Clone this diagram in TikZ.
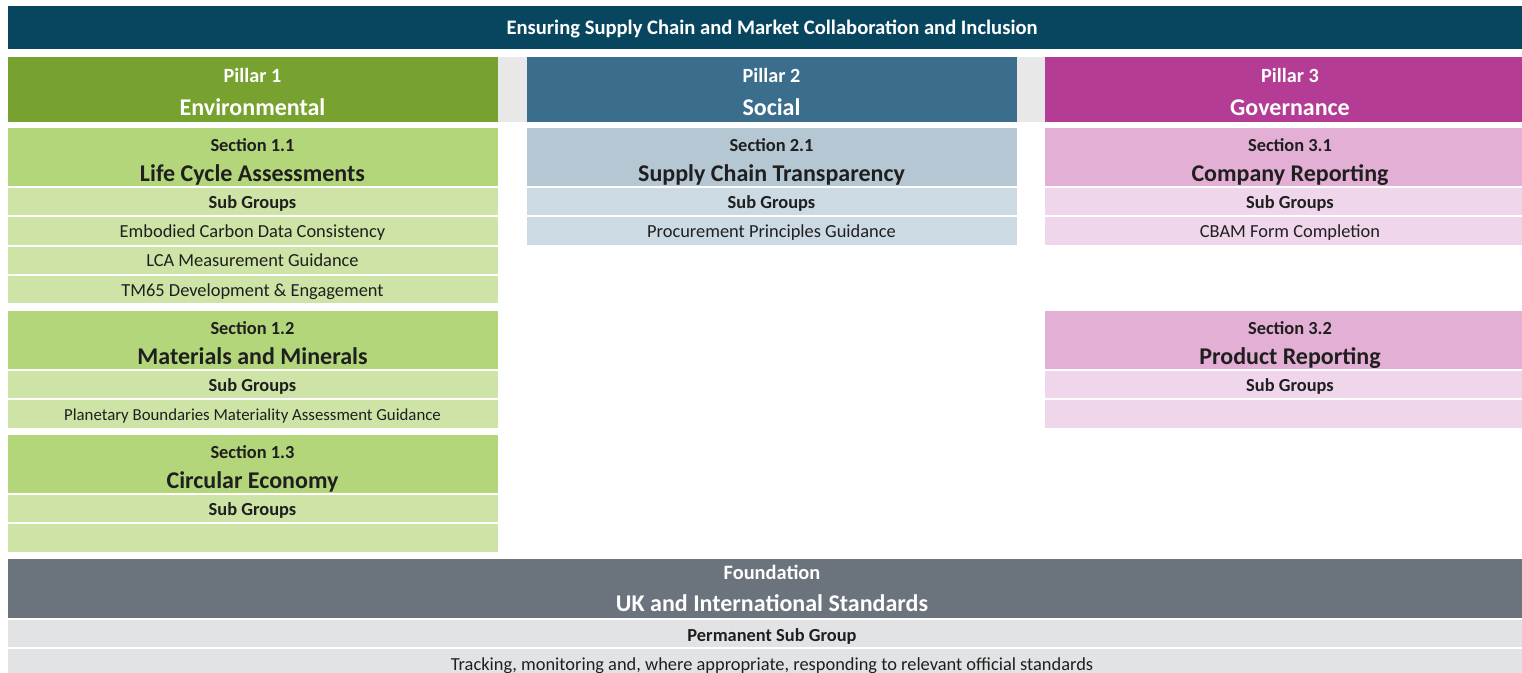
\documentclass[tikz,border=0pt]{standalone}
\usepackage{fontspec}
\setmainfont{Carlito}
\usepackage{tikz}

\definecolor{titleblue}{HTML}{084660}
\definecolor{envgreen}{HTML}{78A22F}
\definecolor{envhead}{HTML}{B3D67A}
\definecolor{envrow}{HTML}{CDE4A6}
\definecolor{socblue}{HTML}{3B6D8C}
\definecolor{sochead}{HTML}{B4C7D3}
\definecolor{socrow}{HTML}{CCDAE3}
\definecolor{govpink}{HTML}{B43C94}
\definecolor{govhead}{HTML}{E4AFD5}
\definecolor{govrow}{HTML}{F0D6EB}
\definecolor{foundgrey}{HTML}{6B737C}
\definecolor{foundrow}{HTML}{E2E3E5}
\definecolor{gapgrey}{HTML}{E8E8E8}
\definecolor{cellink}{HTML}{1F1F1F}

\tikzset{
	cell/.style = {rectangle, inner sep=0pt, outer sep=0pt, minimum width=245pt, text=cellink, text depth=0pt},
	titlebar/.style = {cell, fill=titleblue, text=white, minimum width=764pt, minimum height=21.5pt,
		text height=7pt, font=\fontsize{10.3}{12}\selectfont\bfseries},
	pillar/.style = {cell, fill=#1, text=white, minimum height=32.5pt, align=center,
		text height=26.3pt, font=\fontsize{10.1}{16.5}\selectfont\bfseries},
	foundhead/.style = {cell, fill=foundgrey, text=white, minimum width=764pt, minimum height=29.5pt, align=center,
		text height=23.5pt, font=\fontsize{10.2}{16.5}\selectfont\bfseries},
	sechead/.style = {cell, fill=#1, minimum height=29pt, align=center,
		text height=25pt, font=\fontsize{9.2}{15.35}\selectfont\bfseries},
	subhead/.style = {cell, fill=#1, minimum height=13.75pt, text height=7.2pt, font=\fontsize{9.2}{11}\selectfont\bfseries},
	item/.style = {cell, fill=#1, minimum height=13.75pt, text height=6.4pt, font=\fontsize{9.2}{11}\selectfont}
}

\begin{document}
\begin{tikzpicture}[x=0.5pt, y=-0.5pt]

	\useasboundingbox (0,0) rectangle (1522,673);
	\clip (0,0) rectangle (1522,673);
	\fill[white] (0,0) rectangle (1522,673);

	% top bar
	\node[titlebar] (top) at (772,28) {Ensuring Supply Chain and Market Collaboration and Inclusion};

	% pillars
	\fill[gapgrey] (497,57) rectangle (527,122);
	\fill[gapgrey] (1016,57) rectangle (1045,122);
	\node[pillar=envgreen] (p1) at (252.5,89.5) {Pillar 1\\{\fontsize{12}{16.5}\selectfont Environmental}};
	\node[pillar=socblue] (p2) at (771.5,89.5) {Pillar 2\\{\fontsize{12}{16.5}\selectfont Social}};
	\node[pillar=govpink] (p3) at (1290,89.5) {Pillar 3\\{\fontsize{12}{16.5}\selectfont Governance}};

	% pillar 1
	\node[sechead=envhead] (s11) at (252.5,157) {Section 1.1\\{\fontsize{12}{15.35}\selectfont Life Cycle Assessments}};
	\node[subhead=envrow] (s11sub) at (252.5,201.75) {Sub Groups};
	\node[item=envrow] (s11a) at (252.5,231.05) {Embodied Carbon Data Consistency};
	\node[item=envrow] (s11b) at (252.5,260.35) {LCA Measurement Guidance};
	\node[item=envrow] (s11c) at (252.5,289.65) {TM65 Development \& Engagement};

	\node[sechead=envhead] (s12) at (252.5,340) {Section 1.2\\{\fontsize{12}{15.35}\selectfont Materials and Minerals}};
	\node[subhead=envrow] (s12sub) at (252.5,384.75) {Sub Groups};
	\node[item=envrow, font=\fontsize{8.4}{11}\selectfont] (s12a) at (252.5,414.05) {Planetary Boundaries Materiality Assessment Guidance};

	\node[sechead=envhead] (s13) at (252.5,464) {Section 1.3\\{\fontsize{12}{15.35}\selectfont Circular Economy}};
	\node[subhead=envrow] (s13sub) at (252.5,508.75) {Sub Groups};
	\node[item=envrow] (s13a) at (252.5,538.05) {};

	% pillar 2
	\node[sechead=sochead] (s21) at (771.5,157) {Section 2.1\\{\fontsize{12}{15.35}\selectfont Supply Chain Transparency}};
	\node[subhead=socrow] (s21sub) at (771.5,201.75) {Sub Groups};
	\node[item=socrow] (s21a) at (771.5,231.05) {Procurement Principles Guidance};

	% pillar 3
	\node[sechead=govhead] (s31) at (1290,157) {Section 3.1\\{\fontsize{12}{15.35}\selectfont Company Reporting}};
	\node[subhead=govrow] (s31sub) at (1290,201.75) {Sub Groups};
	\node[item=govrow] (s31a) at (1290,231.05) {CBAM Form Completion};

	\node[sechead=govhead] (s32) at (1290,340) {Section 3.2\\{\fontsize{12}{15.35}\selectfont Product Reporting}};
	\node[subhead=govrow] (s32sub) at (1290,384.75) {Sub Groups};
	\node[item=govrow] (s32a) at (1290,414.05) {};

	% foundation
	\node[foundhead] (fnd) at (772,588.5) {Foundation\\{\fontsize{12}{16.5}\selectfont UK and International Standards}};
	\node[subhead=foundrow, minimum width=764pt, text height=8.2pt] (fndsub) at (772,633.75) {Permanent Sub Group};
	\node[item=foundrow, minimum width=764pt, text height=7.4pt] (fnda) at (772,663.05) {Tracking, monitoring and, where appropriate, responding to relevant official standards};

\end{tikzpicture}
\end{document}
